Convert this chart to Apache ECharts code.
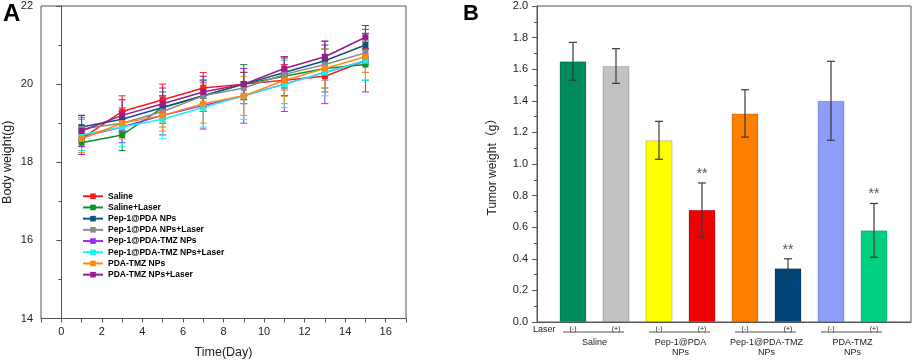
<!DOCTYPE html>
<html>
<head>
<meta charset="utf-8">
<script src="https://cdn.jsdelivr.net/npm/echarts/dist/echarts.min.js"></script>
<style>
html, body { margin: 0; padding: 0; background: #fff; }
#chart { width: 913px; height: 364px; }
</style>
</head>
<body>
<div id="chart"></div>
<script>
// ---- panel A: body weight over time ----
const days = [1, 3, 5, 7, 9, 11, 13, 15]
const groupsA = ['Saline', 'Saline+Laser', 'Pep-1@PDA NPs', 'Pep-1@PDA NPs+Laser', 'Pep-1@PDA-TMZ NPs', 'Pep-1@PDA-TMZ NPs+Laser', 'PDA-TMZ NPs', 'PDA-TMZ NPs+Laser']
const saline = [18.6, 19.3, 19.6, 19.9, 20.0, 20.1, 20.2, 20.6]
const salineLaser = [18.5, 18.7, 19.4, 19.7, 20.0, 20.2, 20.4, 20.5]
const pep1 = [18.9, 19.1, 19.4, 19.7, 20.0, 20.3, 20.6, 21.0]
const pep1Laser = [18.85, 19.0, 19.3, 19.7, 19.9, 20.25, 20.5, 20.8]
const pep1Tmz = [18.65, 18.9, 19.2, 19.45, 19.7, 20.0, 20.3, 20.6]
const pep1TmzLaser = [18.7, 18.9, 19.1, 19.4, 19.7, 20.0, 20.3, 20.6]
const pdaTmz = [18.6, 19.0, 19.2, 19.5, 19.7, 20.1, 20.4, 20.7]
const pdaTmzLaser = [18.8, 19.2, 19.5, 19.8, 20.0, 20.4, 20.7, 21.2]
const salineErr = [0.3, 0.4, 0.4, 0.4, 0.3, 0.4, 0.4, 0.3]
const salineLaserErr = [0.3, 0.4, 0.4, 0.4, 0.5, 0.5, 0.5, 0.4]
const pep1Err = [0.3, 0.3, 0.3, 0.4, 0.4, 0.4, 0.4, 0.3]
const pep1LaserErr = [0.3, 0.3, 0.4, 0.4, 0.4, 0.4, 0.4, 0.3]
const pep1TmzErr = [0.45, 0.4, 0.5, 0.6, 0.7, 0.7, 0.8, 0.8]
const pep1TmzLaserErr = [0.4, 0.5, 0.5, 0.5, 0.6, 0.6, 0.6, 0.5]
const pdaTmzErr = [0.35, 0.4, 0.4, 0.5, 0.5, 0.6, 0.5, 0.4]
const pdaTmzLaserErr = [0.4, 0.4, 0.4, 0.4, 0.3, 0.3, 0.4, 0.3]

// ---- panel B: tumor weight ----
const laserLabels = ['(-)', '(+)', '(-)', '(+)', '(-)', '(+)', '(-)', '(+)']
const groupNames = ['Saline', 'Pep-1@PDA\nNPs', 'Pep-1@PDA-TMZ\nNPs', 'PDA-TMZ\nNPs']
const tumorWeight = [1.65, 1.62, 1.15, 0.71, 1.32, 0.34, 1.40, 0.58]
const tumorErr = [0.12, 0.11, 0.12, 0.17, 0.15, 0.06, 0.25, 0.17]
const sigMarks = ['', '', '', '**', '', '**', '', '**']

const valuesA = [saline, salineLaser, pep1, pep1Laser, pep1Tmz, pep1TmzLaser, pdaTmz, pdaTmzLaser]
const errorsA = [salineErr, salineLaserErr, pep1Err, pep1LaserErr, pep1TmzErr, pep1TmzLaserErr, pdaTmzErr, pdaTmzLaserErr]
const colorsA = ['#ff1a1a', '#0a9130', '#14507e', '#8a8a8a', '#9a2bff', '#19f0f0', '#ff8a10', '#9c1a8c']
const colorsB = ['#008c5a', '#c2c2c2', '#ffff00', '#ee0000', '#ff8000', '#00457a', '#8c9dfa', '#00cf80']

const font = '"Liberation Sans", "Noto Sans CJK SC"'
const axisColor = '#555'

function errorBar(color, capW, lineW) {
    return function (params, api) {
        const x = api.value(0)
        const y = api.value(1)
        const e = api.value(2)
        const hi = api.coord([x, y + e])
        const lo = api.coord([x, y - e])
        const st = { stroke: color, lineWidth: lineW }
        const children = [
            { type: 'line', shape: { x1: hi[0], y1: hi[1], x2: lo[0], y2: lo[1] }, style: st },
            { type: 'line', shape: { x1: hi[0] - capW, y1: hi[1], x2: hi[0] + capW, y2: hi[1] }, style: st },
            { type: 'line', shape: { x1: lo[0] - capW, y1: lo[1], x2: lo[0] + capW, y2: lo[1] }, style: st },
        ]
        return { type: 'group', children: children }
    }
}

const seriesA = []
groupsA.forEach((name, k) => {
    seriesA.push({
        name: name + ' err',
        type: 'custom',
        xAxisIndex: 0,
        yAxisIndex: 0,
        renderItem: errorBar(colorsA[k], 3.5, 1),
        encode: { x: 0, y: 1 },
        data: days.map((d, i) => [d, valuesA[k][i], errorsA[k][i]]),
        itemStyle: { opacity: 0.75 },
        z: 2,
        silent: true,
    })
})
groupsA.forEach((name, k) => {
    seriesA.push({
        name: name,
        type: 'line',
        xAxisIndex: 0,
        yAxisIndex: 0,
        data: days.map((d, i) => [d, valuesA[k][i]]),
        symbol: 'rect',
        symbolSize: 6,
        color: colorsA[k],
        lineStyle: { width: 1.5, color: colorsA[k] },
        itemStyle: { color: colorsA[k] },
        z: 3,
    })
})

const option = {
    animation: false,
    textStyle: { fontFamily: font },
    graphic: [
        { type: 'text', left: 3, top: 2, style: { text: 'A', font: 'bold 24px "Liberation Sans"', fill: '#000' } },
        { type: 'text', left: 463, top: 3, style: { text: 'B', font: 'bold 22px "Liberation Sans"', fill: '#000' } },
        { type: 'text', left: 533, top: 325, style: { text: 'Laser', font: '9px "Liberation Sans"', fill: '#222' } },
    ],
    legend: {
        data: groupsA,
        orient: 'vertical',
        left: 77,
        top: 187,
        itemWidth: 20,
        itemHeight: 7,
        itemGap: 2.7,
        textStyle: { fontSize: 8.5, fontWeight: 'bold', color: '#000', fontFamily: font },
    },
    grid: [
        { left: 41, top: 6, width: 365, height: 316, show: true, borderColor: axisColor, borderWidth: 1 },
        { left: 537, top: 6, width: 374, height: 316, show: true, borderColor: axisColor, borderWidth: 1 },
        { left: 551.5, top: 6, width: 344, height: 316 },
    ],
    xAxis: [
        {
            gridIndex: 0,
            type: 'value',
            min: -1,
            max: 17,
            interval: 1,
            name: 'Time(Day)',
            nameLocation: 'middle',
            nameGap: 28,
            nameTextStyle: { fontSize: 12.5, color: '#222' },
            axisLine: { lineStyle: { color: axisColor } },
            axisTick: { length: 4, lineStyle: { color: axisColor } },
            axisLabel: {
                fontSize: 11,
                color: '#222',
                margin: 8,
                formatter: v => (v % 2 === 0 ? String(v) : ''),
            },
            splitLine: { show: false },
        },
        {
            gridIndex: 1,
            type: 'value',
            min: 0,
            max: 1,
            axisLine: { lineStyle: { color: axisColor } },
            axisTick: { show: false },
            axisLabel: { show: false },
            splitLine: { show: false },
        },
        {
            gridIndex: 2,
            type: 'category',
            position: 'bottom',
            data: laserLabels.map((l, i) => 'bar' + i),
            axisLine: { show: false },
            axisTick: { show: false },
            axisLabel: {
                interval: 0,
                fontSize: 7,
                color: '#222',
                margin: 4,
                formatter: (v, i) => laserLabels[i],
            },
            splitLine: { show: false },
        },
        {
            gridIndex: 2,
            type: 'category',
            position: 'bottom',
            data: groupNames,
            axisLine: { show: false },
            axisTick: { show: false },
            axisLabel: { interval: 0, fontSize: 9, color: '#222', margin: 16, lineHeight: 10 },
            splitLine: { show: false },
        },
    ],
    yAxis: [
        {
            gridIndex: 0,
            type: 'value',
            min: 14,
            max: 22,
            interval: 2,
            name: 'Body weight(g)',
            nameLocation: 'middle',
            nameGap: 27,
            nameTextStyle: { fontSize: 12.5, color: '#222' },
            axisLine: { lineStyle: { color: axisColor } },
            axisTick: { length: 5, lineStyle: { color: axisColor } },
            minorTick: { show: true, splitNumber: 2, length: 3, lineStyle: { color: axisColor } },
            axisLabel: { fontSize: 11, color: '#222', margin: 8 },
            splitLine: { show: false },
        },
        {
            gridIndex: 1,
            type: 'value',
            min: 0,
            max: 2,
            interval: 0.2,
            name: 'Tumor weight（g）',
            nameLocation: 'middle',
            nameGap: 38,
            nameTextStyle: { fontSize: 12, color: '#222', fontFamily: font },
            axisLine: { lineStyle: { color: axisColor } },
            axisTick: { length: 5, lineStyle: { color: axisColor } },
            minorTick: { show: true, splitNumber: 2, length: 3, lineStyle: { color: axisColor } },
            axisLabel: { fontSize: 11, color: '#222', margin: 9, formatter: v => v.toFixed(1) },
            splitLine: { show: false },
        },
        {
            gridIndex: 2,
            type: 'value',
            min: 0,
            max: 2,
            show: false,
        },
    ],
    series: seriesA.concat([
        {
            name: 'Tumor weight',
            type: 'bar',
            xAxisIndex: 2,
            yAxisIndex: 2,
            barWidth: 27,
            data: tumorWeight.map((v, i) => ({
                value: v,
                itemStyle: { color: colorsB[i], borderColor: 'rgba(0,0,0,0.18)', borderWidth: 1 },
            })),
            z: 2,
        },
        {
            name: 'Tumor err',
            type: 'custom',
            xAxisIndex: 2,
            yAxisIndex: 2,
            encode: { x: 0, y: 1 },
            clip: false,
            data: tumorWeight.map((v, i) => [i, v, tumorErr[i]]),
            renderItem: function (params, api) {
                const g = errorBar('#3a3a3a', 4, 1.2)(params, api)
                const mark = sigMarks[params.dataIndex]
                if (mark) {
                    const top = api.coord([api.value(0), api.value(1) + api.value(2)])
                    g.children.push({
                        type: 'text',
                        x: top[0],
                        y: top[1] - 2,
                        style: { text: mark, fill: '#555', font: '14px "Liberation Sans"', align: 'center', verticalAlign: 'bottom' },
                    })
                }
                return g
            },
            z: 3,
            silent: true,
        },
        {
            name: 'Group lines',
            type: 'custom',
            xAxisIndex: 2,
            yAxisIndex: 2,
            encode: { x: [0, 1], y: 2 },
            clip: false,
            data: groupNames.map((g, i) => [2 * i, 2 * i + 1, 0]),
            renderItem: function (params, api) {
                const a = api.coord([api.value(0), 0])
                const b = api.coord([api.value(1), 0])
                return {
                    type: 'line',
                    shape: { x1: a[0] - 10, y1: a[1] + 10, x2: b[0] + 8, y2: b[1] + 10 },
                    style: { stroke: '#555', lineWidth: 1 },
                }
            },
            silent: true,
        },
    ]),
}

const chart = echarts.init(document.getElementById('chart'))
chart.setOption(option)
</script>
</body>
</html>
